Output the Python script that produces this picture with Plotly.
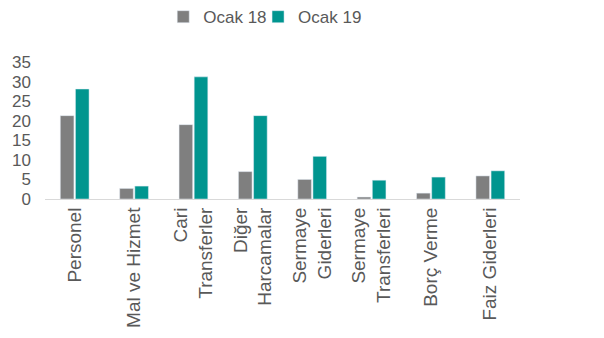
import plotly.graph_objects as go

categories = ["Personel", "Mal ve Hizmet", "Cari<br>Transferler", "Diğer<br>Harcamalar",
              "Sermaye<br>Giderleri", "Sermaye<br>Transferleri", "Borç Verme", "Faiz Giderleri"]
ocak18 = [21.3, 2.7, 19.0, 7.0, 5.0, 0.5, 1.5, 5.9]
ocak19 = [28.1, 3.3, 31.2, 21.3, 10.9, 4.8, 5.6, 7.2]
yticks = [0, 5, 10, 15, 20, 25, 30, 35]

fig = go.Figure()
fig.add_bar(x=categories, y=ocak18, name="Ocak 18", marker_color="#7F7F7F", legend="legend")
fig.add_bar(x=categories, y=ocak19, name="Ocak 19", marker_color="#00958F", legend="legend2")

leg_common = dict(orientation="h", xref="container", yref="container", xanchor="left",
                  y=0.973, yanchor="middle", font=dict(size=17), itemwidth=30,
                  bgcolor="rgba(0,0,0,0)")
fig.update_layout(
    width=604, height=338,
    margin=dict(l=37, r=92, t=54, b=147),
    paper_bgcolor="white", plot_bgcolor="white",
    barmode="group", bargap=0.49, bargroupgap=0.1,
    font=dict(family="Liberation Sans, Arial", color="#595959", size=17),
    legend=dict(x=0.257, **leg_common),
    legend2=dict(x=0.414, **leg_common),
    showlegend=True,
)
fig.update_xaxes(tickangle=-90, tickfont=dict(size=19), showline=True, linecolor="#D9D9D9",
                 linewidth=1, ticks="", showgrid=False, automargin=False)
fig.update_yaxes(range=[0, 35], tickvals=yticks, showgrid=False, zeroline=False,
                 showline=False, tickfont=dict(size=17), ticks="", automargin=False,
                 ticklabelstandoff=13)

fig.write_html("out.html")
